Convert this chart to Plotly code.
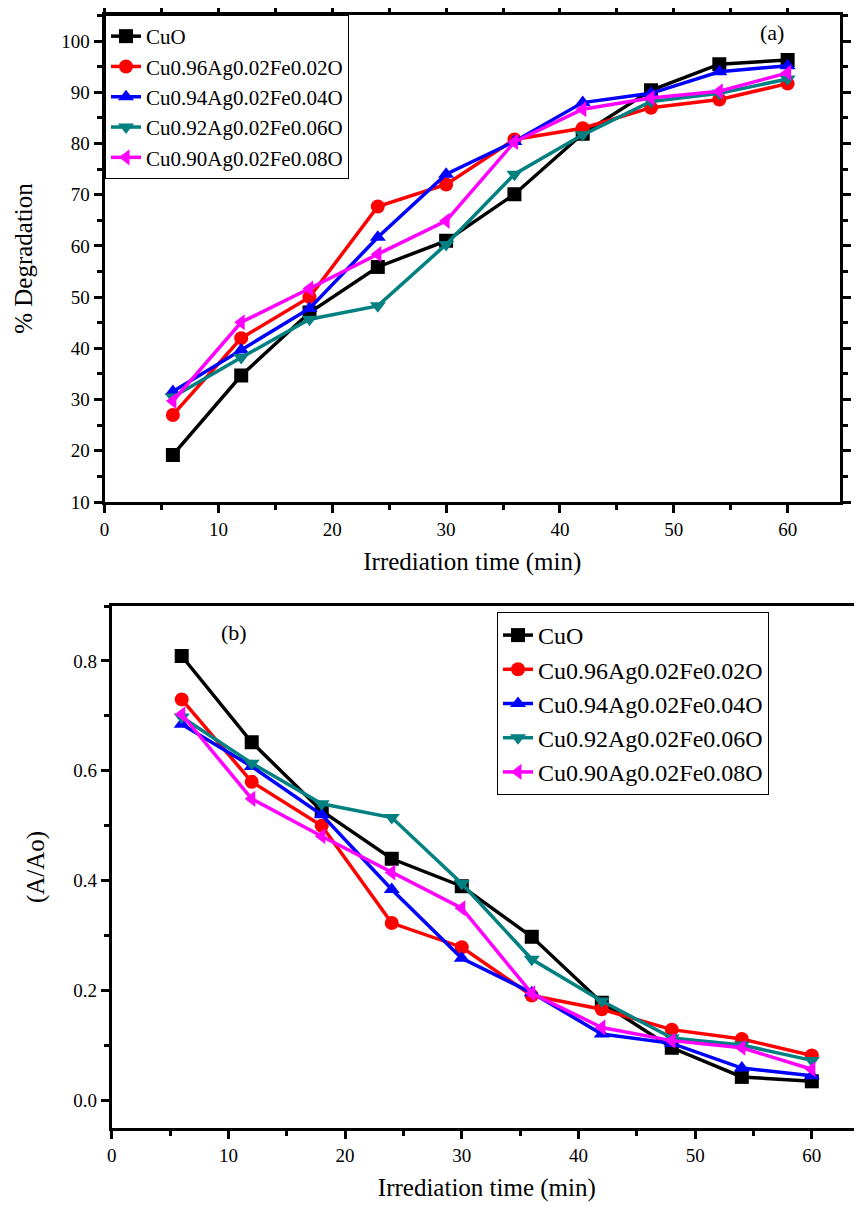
import plotly.graph_objects as go

# irradiation time (min)
time_min = [6, 12, 18, 24, 30, 36, 42, 48, 54, 60]

sample_names = [
    "CuO",
    "Cu0.96Ag0.02Fe0.02O",
    "Cu0.94Ag0.02Fe0.04O",
    "Cu0.92Ag0.02Fe0.06O",
    "Cu0.90Ag0.02Fe0.08O",
]

# (a) % degradation
deg_cuo = [19.2, 34.7, 47.0, 55.9, 61.0, 70.1, 81.9, 90.4, 95.5, 96.3]
deg_fe02 = [27.0, 42.0, 50.0, 67.7, 72.0, 80.8, 83.0, 87.0, 88.6, 91.7]
deg_fe04 = [31.6, 39.7, 47.8, 61.7, 74.0, 80.4, 88.0, 89.8, 94.0, 95.2]
deg_fe06 = [30.5, 38.2, 45.7, 48.3, 60.3, 74.0, 81.7, 88.2, 89.8, 92.6]
deg_fe08 = [29.7, 45.1, 51.7, 58.4, 64.9, 80.3, 86.7, 88.9, 90.2, 93.8]

# (b) A/Ao
ratio_cuo = [0.809, 0.652, 0.527, 0.440, 0.390, 0.298, 0.178, 0.096, 0.043, 0.035]
ratio_fe02 = [0.730, 0.580, 0.500, 0.323, 0.279, 0.191, 0.166, 0.129, 0.112, 0.082]
ratio_fe04 = [0.685, 0.608, 0.520, 0.384, 0.259, 0.196, 0.121, 0.104, 0.059, 0.045]
ratio_fe06 = [0.698, 0.614, 0.540, 0.515, 0.395, 0.257, 0.181, 0.114, 0.101, 0.073]
ratio_fe08 = [0.703, 0.549, 0.481, 0.415, 0.350, 0.195, 0.133, 0.109, 0.096, 0.057]

colors = ["#000000", "#ff0000", "#0000ff", "#008080", "#ff00ff"]
symbols = ["square", "circle", "triangle-up", "triangle-down", "triangle-left"]

FONT = "Liberation Serif, Times New Roman, serif"
# page body has an 8px margin, so the figure is drawn 8px smaller and offset
OFF = 8
W, H = 862 - OFF, 1207 - OFF


def px_x(p):
    return (p - OFF) / W


def px_y(p):
    return 1 - (p - OFF) / H


fig = go.Figure()

for name, ys, c, s in zip(sample_names, [deg_cuo, deg_fe02, deg_fe04, deg_fe06, deg_fe08], colors, symbols):
    fig.add_trace(
        go.Scatter(
            x=time_min, y=ys, name=name, mode="lines+markers",
            line=dict(color=c, width=3.5), marker=dict(symbol=s, size=14, color=c),
            xaxis="x", yaxis="y", legend="legend",
        )
    )

for name, ys, c, s in zip(sample_names, [ratio_cuo, ratio_fe02, ratio_fe04, ratio_fe06, ratio_fe08], colors, symbols):
    fig.add_trace(
        go.Scatter(
            x=time_min, y=ys, name=name, mode="lines+markers",
            line=dict(color=c, width=3.5), marker=dict(symbol=s, size=14, color=c),
            xaxis="x2", yaxis="y2", legend="legend2",
        )
    )

axis_common = dict(
    showline=True, linecolor="black", linewidth=3,
    ticks="outside", ticklen=8, tickwidth=3, tickcolor="black",
    showgrid=False, zeroline=False, automargin=False,
    tickfont=dict(family=FONT, size=19, color="black"),
)
minor_common = dict(ticklen=5, tickwidth=2.5, tickcolor="black", ticks="outside", showgrid=False)
title_font = dict(family=FONT, size=25, color="black")

fig.update_layout(
    width=W, height=H,
    margin=dict(l=0, r=0, t=0, b=0, autoexpand=False),
    paper_bgcolor="white", plot_bgcolor="white",
    font=dict(family=FONT, color="black"),
    xaxis=dict(
        axis_common, domain=[px_x(104.6), px_x(840)], anchor="y",
        range=[0, 64.6], dtick=10, mirror="ticks",
        minor=dict(minor_common, dtick=5),
        title=dict(text="Irrediation time (min)", font=title_font, standoff=14),
    ),
    yaxis=dict(
        axis_common, domain=[px_y(502), px_y(15)], anchor="x",
        range=[10, 105.1], dtick=10, mirror="ticks",
        minor=dict(minor_common, dtick=5),
        title=dict(text="% Degradation", font=title_font, standoff=22),
    ),
    xaxis2=dict(
        axis_common, domain=[px_x(111.7), 1.0], anchor="y2",
        range=[0, 64.3], dtick=10, mirror=True,
        minor=dict(minor_common, dtick=5),
        title=dict(text="Irrediation time (min)", font=title_font, standoff=14),
    ),
    yaxis2=dict(
        axis_common, domain=[px_y(1128), px_y(606)], anchor="x2",
        range=[-0.05, 0.9], dtick=0.2, tickformat=".1f",
        minor=dict(minor_common, dtick=0.1),
        title=dict(text="(A/Ao)", font=title_font, standoff=22),
    ),
    legend=dict(
        x=px_x(105), y=px_y(15), xanchor="left", yanchor="top",
        bgcolor="white", bordercolor="black", borderwidth=1,
        font=dict(family=FONT, size=21, color="black"), tracegroupgap=0,
    ),
    legend2=dict(
        x=px_x(497), y=px_y(612), xanchor="left", yanchor="top",
        bgcolor="white", bordercolor="black", borderwidth=1,
        font=dict(family=FONT, size=24, color="black"), tracegroupgap=0,
    ),
    showlegend=True,
)

fig.add_annotation(x=58.6, y=101.6, xref="x", yref="y", text="(a)", showarrow=False,
                   font=dict(family=FONT, size=22, color="black"))
fig.add_annotation(x=10.5, y=0.851, xref="x2", yref="y2", text="(b)", showarrow=False,
                   font=dict(family=FONT, size=22, color="black"))

fig.write_html("out.html")
